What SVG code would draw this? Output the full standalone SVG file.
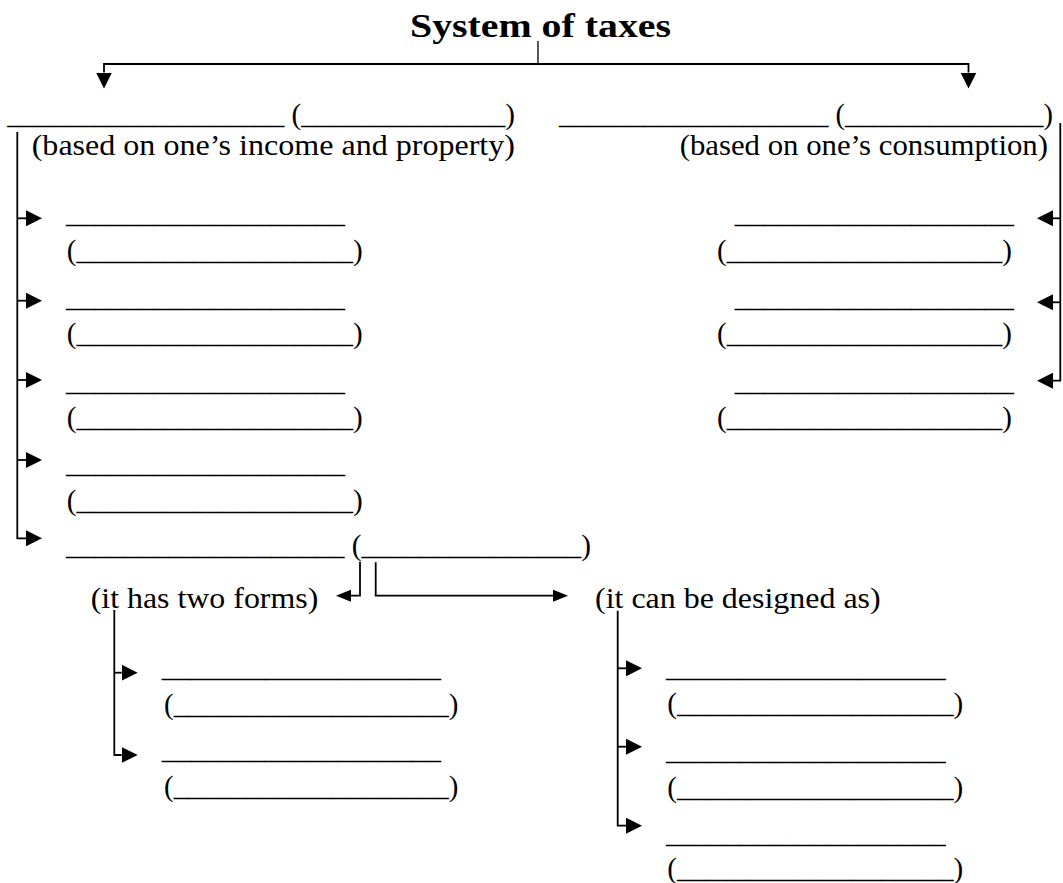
<svg xmlns="http://www.w3.org/2000/svg" width="1063" height="883" viewBox="0 0 1063 883">
<style>
.t{font-family:"Liberation Serif","Times New Roman",serif;font-size:29.3px;fill:#000}
.title{font-family:"Liberation Serif","Times New Roman",serif;font-size:34px;font-weight:bold;fill:#000}
.c{fill:none;stroke:#000;stroke-width:1.8}
</style>
<defs>
<marker id="ah" viewBox="0 0 16 16" refX="0" refY="8" markerWidth="16" markerHeight="16" markerUnits="userSpaceOnUse" orient="auto">
<path d="M0,0 L16,8 L0,16 Z" fill="#000"/>
</marker>
<marker id="ahs" viewBox="0 0 15 12" refX="0" refY="6" markerWidth="15" markerHeight="12" markerUnits="userSpaceOnUse" orient="auto">
<path d="M0,0 L15,6 L0,12 Z" fill="#000"/>
</marker>
</defs>
<rect width="1063" height="883" fill="#fff"/>

<g id="connectors">
<path class="c" d="M538,41 V64" style="stroke-width:1.3"/>
<path class="c" d="M538,64 H104 V72.5" marker-end="url(#ah)"/>
<path class="c" d="M538,64 H968.5 V72.5" marker-end="url(#ah)"/>
<path class="c" d="M17.3,132 V538.3 H26" marker-end="url(#ah)"/>
<path class="c" d="M17.3,218.3 H26" marker-end="url(#ah)"/>
<path class="c" d="M17.3,300.7 H26" marker-end="url(#ah)"/>
<path class="c" d="M17.3,380 H26" marker-end="url(#ah)"/>
<path class="c" d="M17.3,460 H26" marker-end="url(#ah)"/>
<path class="c" d="M1060.3,123 V380.7 H1053" marker-end="url(#ah)"/>
<path class="c" d="M1060.3,218.3 H1053" marker-end="url(#ah)"/>
<path class="c" d="M1060.3,302.3 H1053" marker-end="url(#ah)"/>
<path class="c" d="M360,561.7 V595.7 H351" marker-end="url(#ahs)"/>
<path class="c" d="M375.7,562.3 V595.7 H553" marker-end="url(#ahs)"/>
<path class="c" d="M114.3,610 V755 H121.7" marker-end="url(#ah)"/>
<path class="c" d="M114.3,672.7 H121.7" marker-end="url(#ah)"/>
<path class="c" d="M617.7,610.7 V825.7 H626" marker-end="url(#ah)"/>
<path class="c" d="M617.7,668.3 H626" marker-end="url(#ah)"/>
<path class="c" d="M617.7,746.7 H626" marker-end="url(#ah)"/>
</g>

<g id="title">
<text class="title" x="410" y="37" textLength="261" lengthAdjust="spacingAndGlyphs">System of taxes</text>
</g>

<g id="direct-taxes">
<text class="t" x="7.3" y="124.2" textLength="507.7" lengthAdjust="spacingAndGlyphs">___________________ (______________)</text>
<text class="t" x="31.7" y="154.5" textLength="483.3" lengthAdjust="spacingAndGlyphs">(based on one’s income and property)</text>
</g>

<g id="indirect-taxes">
<text class="t" x="559" y="124.2" textLength="494" lengthAdjust="spacingAndGlyphs">___________________ (______________)</text>
<text class="t" x="679.7" y="154.5" textLength="368.3" lengthAdjust="spacingAndGlyphs">(based on one’s consumption)</text>
</g>

<g id="direct-1">
<text class="t" x="66" y="223.2" textLength="279" lengthAdjust="spacingAndGlyphs">___________________</text>
<text class="t" x="66.7" y="259.8" textLength="296" lengthAdjust="spacingAndGlyphs">(___________________)</text>
</g>
<g id="direct-2">
<text class="t" x="66" y="306.8" textLength="279" lengthAdjust="spacingAndGlyphs">___________________</text>
<text class="t" x="66.7" y="343.2" textLength="296" lengthAdjust="spacingAndGlyphs">(___________________)</text>
</g>
<g id="direct-3">
<text class="t" x="66" y="390.8" textLength="279" lengthAdjust="spacingAndGlyphs">___________________</text>
<text class="t" x="66.7" y="426.8" textLength="296" lengthAdjust="spacingAndGlyphs">(___________________)</text>
</g>
<g id="direct-4">
<text class="t" x="66" y="473.2" textLength="279" lengthAdjust="spacingAndGlyphs">___________________</text>
<text class="t" x="66.7" y="509.8" textLength="296" lengthAdjust="spacingAndGlyphs">(___________________)</text>
</g>
<g id="direct-5">
<text class="t" x="66" y="555.2" textLength="525" lengthAdjust="spacingAndGlyphs">___________________ (_______________)</text>
</g>

<g id="indirect-1">
<text class="t" x="734.7" y="223.2" textLength="279.3" lengthAdjust="spacingAndGlyphs">___________________</text>
<text class="t" x="717" y="259.8" textLength="295" lengthAdjust="spacingAndGlyphs">(___________________)</text>
</g>
<g id="indirect-2">
<text class="t" x="734.7" y="306.8" textLength="279.3" lengthAdjust="spacingAndGlyphs">___________________</text>
<text class="t" x="717" y="343.2" textLength="295" lengthAdjust="spacingAndGlyphs">(___________________)</text>
</g>
<g id="indirect-3">
<text class="t" x="734.7" y="390.8" textLength="279.3" lengthAdjust="spacingAndGlyphs">___________________</text>
<text class="t" x="717" y="426.8" textLength="295" lengthAdjust="spacingAndGlyphs">(___________________)</text>
</g>

<g id="two-forms">
<text class="t" x="90.7" y="607.5" textLength="227.6" lengthAdjust="spacingAndGlyphs">(it has two forms)</text>
</g>
<g id="form-1">
<text class="t" x="161.7" y="676.5" textLength="279.3" lengthAdjust="spacingAndGlyphs">___________________</text>
<text class="t" x="164" y="714.2" textLength="294.3" lengthAdjust="spacingAndGlyphs">(___________________)</text>
</g>
<g id="form-2">
<text class="t" x="161.7" y="759.2" textLength="279.3" lengthAdjust="spacingAndGlyphs">___________________</text>
<text class="t" x="164" y="795.8" textLength="294.3" lengthAdjust="spacingAndGlyphs">(___________________)</text>
</g>

<g id="designed-as">
<text class="t" x="595" y="607.5" textLength="285.7" lengthAdjust="spacingAndGlyphs">(it can be designed as)</text>
</g>
<g id="design-1">
<text class="t" x="666" y="676.5" textLength="279.7" lengthAdjust="spacingAndGlyphs">___________________</text>
<text class="t" x="667.3" y="712.5" textLength="296" lengthAdjust="spacingAndGlyphs">(___________________)</text>
</g>
<g id="design-2">
<text class="t" x="666" y="760.2" textLength="279.7" lengthAdjust="spacingAndGlyphs">___________________</text>
<text class="t" x="667.3" y="796.5" textLength="296" lengthAdjust="spacingAndGlyphs">(___________________)</text>
</g>
<g id="design-3">
<text class="t" x="666" y="843.2" textLength="279.7" lengthAdjust="spacingAndGlyphs">___________________</text>
<text class="t" x="667.3" y="877.5" textLength="296" lengthAdjust="spacingAndGlyphs">(___________________)</text>
</g>
</svg>
